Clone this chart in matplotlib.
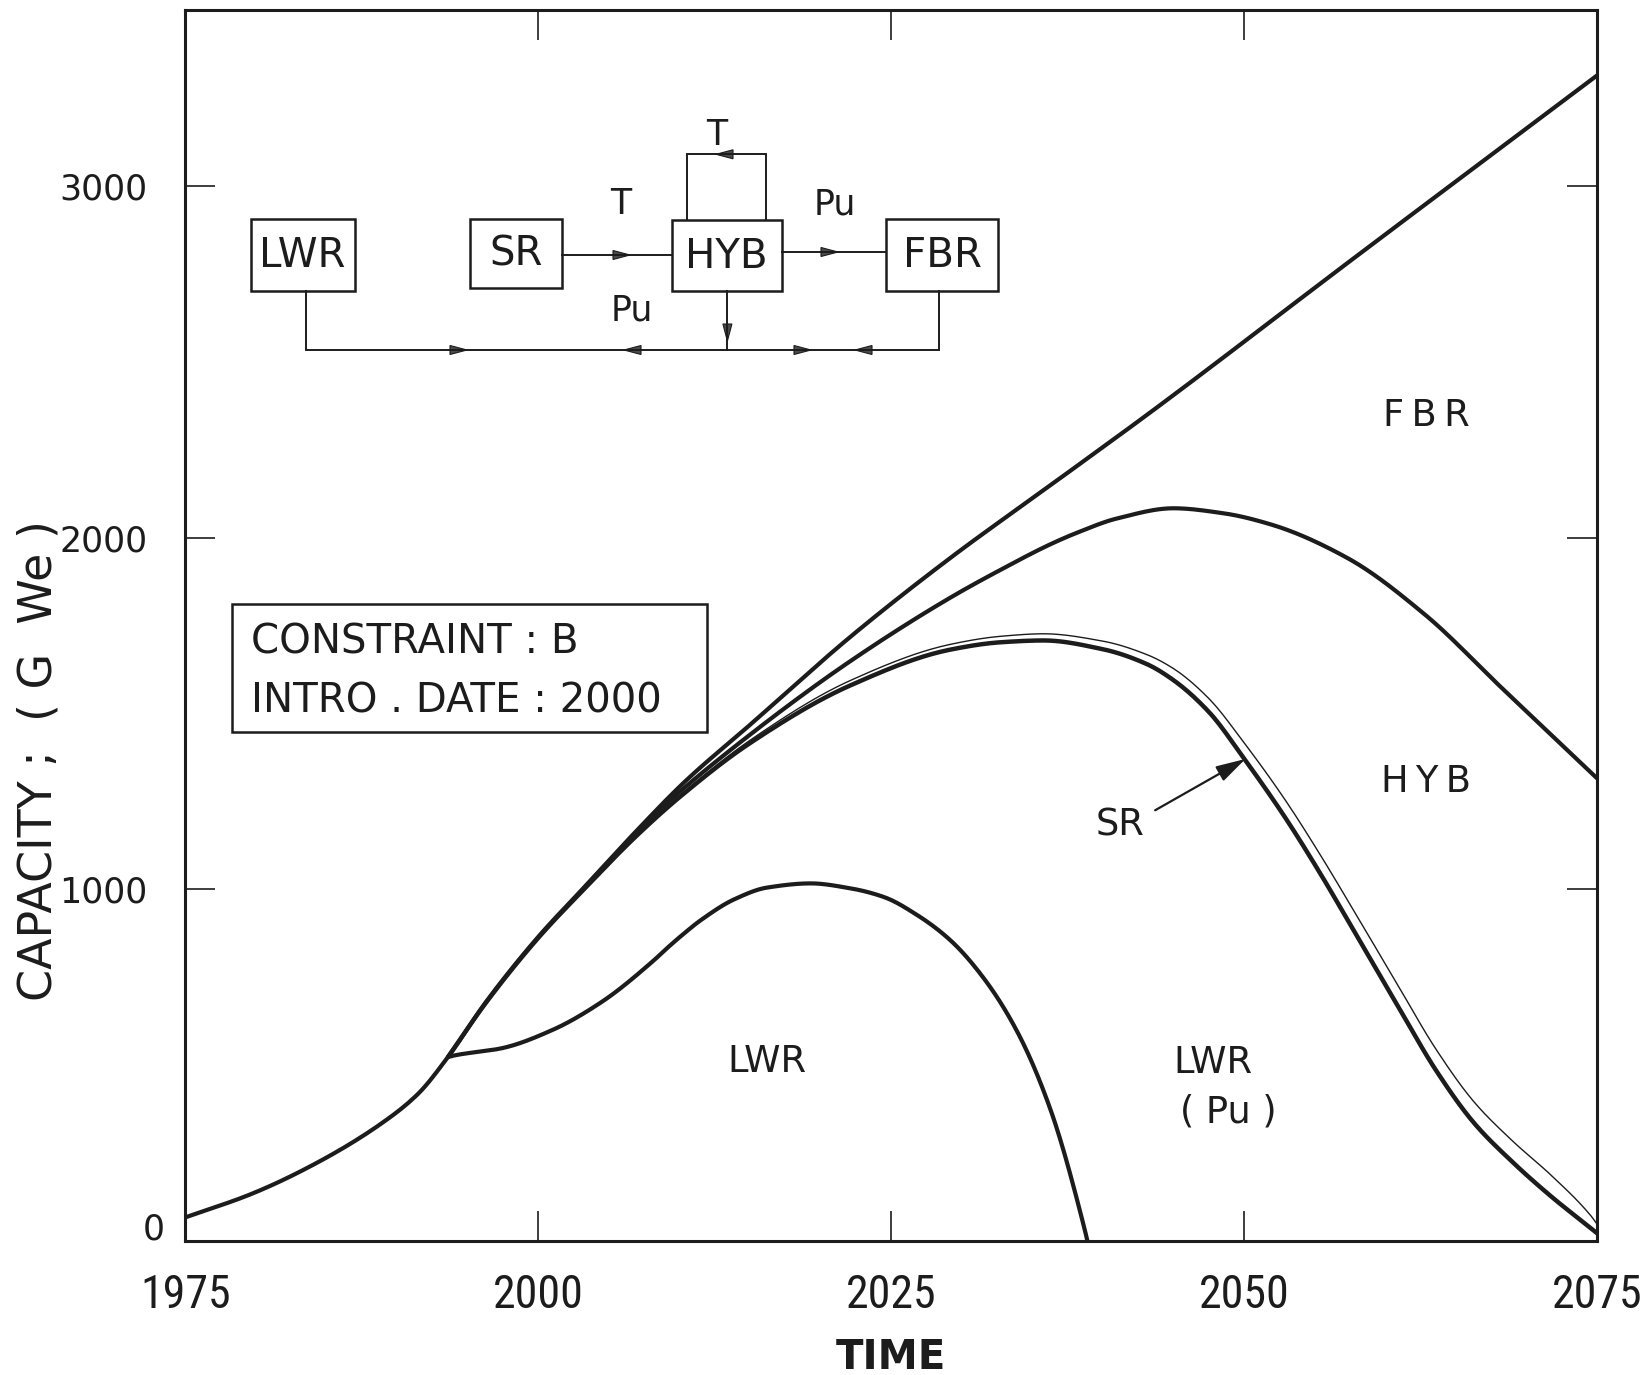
import numpy as np
import matplotlib
matplotlib.use('Agg')
import matplotlib.pyplot as plt
from matplotlib import font_manager
from matplotlib.patches import Rectangle, Polygon
from matplotlib.transforms import ScaledTranslation

# ---- capacity curves (GWe) read per year ----
# total installed capacity (top envelope, upper edge of FBR)
total_years = [1975, 1979.7, 1984.4, 1989.2, 1991.5, 1993.6, 1996.3, 2000, 2003.3,
               2006.9, 2010.4, 2015, 2022.1, 2029.2, 2036.3, 2043.4, 2057.6, 2075]
total_cap = [67, 134, 224, 343, 419, 523, 680, 865, 1008,
             1164, 1307, 1468, 1718, 1943, 2150, 2358, 2790, 3315]

# upper edge of HYB
hyb_years = [2003.3, 2006.9, 2009.1, 2015, 2022.1, 2029.2, 2032.8, 2036.3, 2038.2,
             2041.0, 2045, 2048.5, 2051.9, 2057.3, 2062.8, 2068.2, 2075]
hyb_cap = [1006, 1160, 1245, 1440, 1649, 1830, 1910, 1982, 2015,
           2055, 2084, 2070, 2038, 1943, 1782, 1575, 1316]

# upper edge of LWR(Pu) and of SR
stack_years = [1993.6, 1996.3, 2000, 2003.3, 2006.9, 2010, 2015, 2022.1, 2029.2, 2032.8,
               2035.8, 2040, 2043.1, 2045, 2047.5, 2050, 2052.9, 2055.4, 2058.1, 2060.9,
               2063.6, 2066.3, 2069, 2071.8, 2074.6, 2075]
lwr_pu_cap = [523, 678, 862, 1003, 1150, 1262, 1416, 1580, 1682, 1703,
              1708, 1683, 1641, 1595, 1505, 1372, 1205, 1045, 860, 668,
              485, 335, 225, 125, 35, 22]
sr_cap = [523, 678, 862, 1003, 1151, 1265, 1424, 1594, 1697, 1720,
          1727, 1706, 1668, 1628, 1543, 1417, 1255, 1098, 917, 727,
          545, 395, 285, 185, 70, 48]

# conventional LWR (after the branch point)
lwr_years = [1993.6, 1994.1, 1997.4, 2001.0, 2004.5, 2008.1, 2009.1, 2010.4, 2011.5, 2013.9,
             2016.2, 2019.3, 2022.1, 2024.5, 2026.8, 2029.2, 2031.6, 2034.0, 2036.3, 2038.7,
             2038.9]
lwr_cap = [523, 528, 548, 600, 680, 795, 832, 877, 912, 972,
           1005, 1017, 1003, 978, 928, 855, 745, 590, 372, 34,
           0]

year_ticks = [1975, 2000, 2025, 2050, 2075]
cap_ticks = [0, 1000, 2000, 3000]

INK = '#1c1c1c'


def pchip(x, y, n=400):
    # monotone cubic through the read points, for drawing only
    x = np.asarray(x, float)
    y = np.asarray(y, float)
    h = np.diff(x)
    d = np.diff(y) / h
    m = np.zeros_like(y)
    m[0], m[-1] = d[0], d[-1]
    for k in range(1, len(x) - 1):
        if d[k - 1] * d[k] > 0:
            w1 = 2 * h[k] + h[k - 1]
            w2 = h[k] + 2 * h[k - 1]
            m[k] = (w1 + w2) / (w1 / d[k - 1] + w2 / d[k])
    xs = np.linspace(x[0], x[-1], n)
    i = np.clip(np.searchsorted(x, xs) - 1, 0, len(h) - 1)
    t = (xs - x[i]) / h[i]
    h00 = 2 * t**3 - 3 * t**2 + 1
    h10 = t**3 - 2 * t**2 + t
    h01 = -2 * t**3 + 3 * t**2
    h11 = t**3 - t**2
    ys = h00 * y[i] + h10 * h[i] * m[i] + h01 * y[i + 1] + h11 * h[i] * m[i + 1]
    return xs, ys


# tall narrow lettering for the year labels if a condensed face is around
installed = {f.name for f in font_manager.fontManager.ttflist}
narrow = next((n for n in ['Liberation Sans Narrow', 'Roboto Condensed',
                           'DejaVu Sans Condensed', 'Open Sans Condensed']
               if n in installed), None)
if narrow:
    year_font = dict(fontfamily=narrow, fontsize=33)
else:
    year_font = dict(fontfamily='DejaVu Sans', fontsize=27)

fig = plt.figure(figsize=(16.52, 13.75), dpi=100)
ax = fig.add_axes([0.1122, 0.0975, 0.8545, 0.8949])

for yr, cap, lw in [(total_years, total_cap, 3.0), (hyb_years, hyb_cap, 3.0),
                    (stack_years, lwr_pu_cap, 3.2), (stack_years, sr_cap, 1.0),
                    (lwr_years, lwr_cap, 3.0)]:
    xs, ys = pchip(yr, cap)
    ax.plot(xs, ys, color=INK, lw=lw, solid_capstyle='round')

ax.set_xlim(1975, 2075)
ax.set_ylim(0, 3500)
ax.set_xticks(year_ticks)
ax.set_xticklabels([str(v) for v in year_ticks], **year_font)
ax.set_yticks(cap_ticks)
ax.set_yticklabels([str(v) for v in cap_ticks], fontsize=25)
ax.tick_params(direction='in', length=21.6, width=1.2, top=True, right=True, colors=INK)
ax.tick_params(axis='x', pad=23)
ax.tick_params(axis='y', pad=27)
for s in ax.spines.values():
    s.set_linewidth(2.2)
    s.set_color(INK)

# the zero label sits a little up and to the right
zero = ax.yaxis.get_major_ticks()[0].label1
zero.set_transform(zero.get_transform() + ScaledTranslation(0.17, 0.15, fig.dpi_scale_trans))

ax.set_xlabel('TIME', fontsize=29, fontweight='bold', va='top', color=INK)
ax.xaxis.set_label_coords(0.5, -0.0788)
ax.set_ylabel('CAPACITY ;  ( G  We )', fontsize=33, va='center', color=INK)
ax.yaxis.set_label_coords(-0.1037, 0.39)

# region names
region_kw = dict(fontsize=26.5, ha='center', va='center', color=INK)
ax.text(2062.9, 2347, 'F\u2009B\u2009R', **region_kw)
ax.text(2062.9, 1308, 'H\u2009Y\u2009B', **region_kw)
ax.text(2016.2, 509, 'LWR', **region_kw)
ax.text(2047.8, 508, 'LWR', **region_kw)
ax.text(2048.9, 366, '( Pu )', **region_kw)
ax.text(2041.2, 1184, 'SR', **region_kw)
ax.annotate('', xy=(2050.1, 1371), xytext=(2043.7, 1225),
            arrowprops=dict(arrowstyle='-|>,head_length=0.9,head_width=0.25',
                            lw=1.6, color=INK, shrinkA=0, shrinkB=0, mutation_scale=20))

# ---- overlay in figure pixels for the inset box and the flow sketch ----
sk = fig.add_axes([0, 0, 1, 1], facecolor='none')
sk.set_xlim(0, 1652)
sk.set_ylim(1375, 0)
sk.axis('off')

sk.add_patch(Rectangle((231.7, 604), 475.6, 127.7, fill=False, lw=1.8, ec=INK))
sk.text(250.7, 653, 'CONSTRAINT : B', fontsize=29, va='baseline', color=INK)
sk.text(250.7, 712, 'INTRO . DATE : 2000', fontsize=29, va='baseline', color=INK)

boxes = {'LWR': (250.5, 219, 354.5, 291), 'SR': (470, 219, 562, 288),
         'HYB': (672, 220, 781.6, 291), 'FBR': (885.7, 219, 998.4, 291)}
for name, (x0, y0, x1, y1) in boxes.items():
    sk.add_patch(Rectangle((x0, y0), x1 - x0, y1 - y0, fill=False, lw=1.8, ec=INK))
    sk.text((x0 + x1) / 2, (y0 + y1) / 2 + 1, name, fontsize=29,
            ha='center', va='center', color=INK)

line_kw = dict(color=INK, lw=1.4, solid_joinstyle='miter')
sk.plot([562, 672], [255, 255], **line_kw)
sk.plot([781.6, 885.7], [252, 252], **line_kw)
sk.plot([686.8, 686.8, 766.4, 766.4], [220, 154.3, 154.3, 220], **line_kw)
sk.plot([305.7, 305.7, 938.8, 938.8], [291, 350, 350, 291], **line_kw)
sk.plot([727.4, 727.4], [291, 350], **line_kw)


def head(tip, direction, length=17, half=4.5):
    x, y = tip
    dx, dy = {'r': (-1, 0), 'l': (1, 0), 'd': (0, -1)}[direction]
    bx, by = x + dx * length, y + dy * length
    px, py = -dy * half, dx * half
    sk.add_patch(Polygon([(x, y), (bx + px, by + py), (bx - px, by - py)],
                         closed=True, fc='#4a4a4a', ec=INK, lw=0.8))


head((630, 255), 'r')
head((838, 252), 'r')
head((716, 154.3), 'l')
head((727.4, 341), 'd')
head((467, 350), 'r')
head((624, 350), 'l')
head((811, 350), 'r')
head((855, 350), 'l')

lab_kw = dict(fontsize=25, ha='center', va='center', color=INK)
sk.text(621, 204, 'T', **lab_kw)
sk.text(716.5, 135, 'T', **lab_kw)
sk.text(835, 204, 'Pu', **lab_kw)
sk.text(632, 310, 'Pu', **lab_kw)

fig.savefig('out.png', dpi=100)
